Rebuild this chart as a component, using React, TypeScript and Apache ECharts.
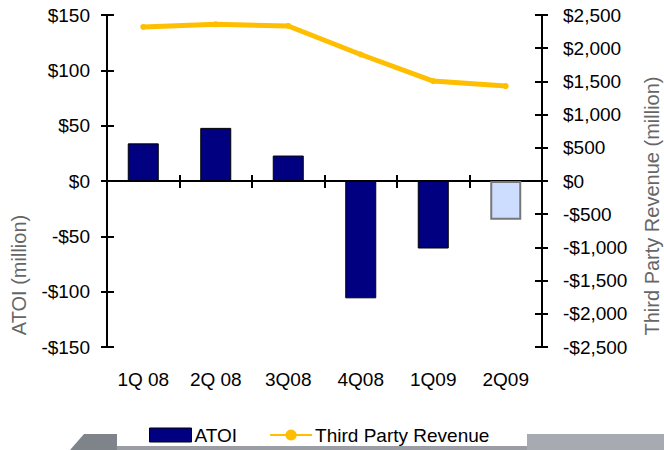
import React, { useEffect, useRef } from "react";
import * as echarts from "echarts";

const categories = ["1Q 08", "2Q 08", "3Q08", "4Q08", "1Q09", "2Q09"];
const atoi = [34, 48, 23, -106, -61, -35];
const revenue = [2320, 2360, 2335, 1905, 1505, 1430];
const leftTicks = { min: -150, max: 150, interval: 50 };
const rightTicks = { min: -2500, max: 2500, interval: 500 };

const FONT = "Liberation Sans";

const fmtLeft = (v: number) => (v < 0 ? "-$" + Math.abs(v) : "$" + v);
const fmtRight = (v: number) => {
  const s = Math.abs(v).toLocaleString("en-US");
  return v < 0 ? "-$" + s : "$" + s;
};

export default function App() {
  const ref = useRef<HTMLDivElement>(null);
  useEffect(() => {
    if (!ref.current) return;
    const chart = echarts.init(ref.current, undefined, { renderer: "svg" });
    const axisLine = { lineStyle: { color: "#000", width: 2 } };
    const tickStyle = { color: "#000", width: 2 };
    const labelStyle = { color: "#000", fontSize: 19, fontFamily: FONT };
    chart.setOption({
      animation: false,
      backgroundColor: "#fff",
      grid: { left: 107, right: 122, top: 15, bottom: 103, containLabel: false },
      legend: {
        left: 149,
        top: 425,
        itemWidth: 42,
        itemHeight: 14,
        itemGap: 32,
        padding: 0,
        textStyle: { color: "#000", fontSize: 19, lineHeight: 20, fontFamily: FONT, padding: [0, 0, 0, -2] },
        data: [
          { name: "ATOI", icon: "rect", itemStyle: { color: "#000080", borderColor: "#000", borderWidth: 1 } },
          { name: "Third Party Revenue" },
        ],
      },
      xAxis: [
        {
          type: "category",
          data: categories,
          position: "bottom",
          axisLine: { show: true, onZero: true, onZeroAxisIndex: 0, ...axisLine },
          axisTick: { show: true, length: 7, lineStyle: tickStyle },
          axisLabel: { show: false },
          splitLine: { show: false },
        },
        {
          type: "category",
          data: categories,
          position: "bottom",
          axisLine: { show: false, onZero: false },
          axisTick: { show: false },
          axisLabel: { ...labelStyle, margin: 23 },
          splitLine: { show: false },
        },
        {
          type: "category",
          data: categories,
          position: "bottom",
          axisLine: { show: false, onZero: true, onZeroAxisIndex: 0 },
          axisTick: { show: true, inside: true, length: 6, lineStyle: tickStyle },
          axisLabel: { show: false },
          splitLine: { show: false },
        },
      ],
      yAxis: [
        {
          type: "value",
          position: "left",
          ...leftTicks,
          axisLine: { show: true, ...axisLine },
          axisTick: { show: true, length: 6, lineStyle: tickStyle },
          axisLabel: { ...labelStyle, margin: 17, formatter: fmtLeft },
          splitLine: { show: false },
        },
        {
          type: "value",
          position: "right",
          ...rightTicks,
          axisLine: { show: true, ...axisLine },
          axisTick: { show: true, length: 6, lineStyle: tickStyle },
          axisLabel: { ...labelStyle, margin: 21, formatter: fmtRight },
          splitLine: { show: false },
        },
        {
          type: "value",
          position: "left",
          ...leftTicks,
          axisLine: { show: false },
          axisTick: { show: true, inside: true, length: 7, lineStyle: tickStyle },
          axisLabel: { show: false },
          splitLine: { show: false },
        },
        {
          type: "value",
          position: "right",
          ...rightTicks,
          axisLine: { show: false },
          axisTick: { show: true, inside: true, length: 7, lineStyle: tickStyle },
          axisLabel: { show: false },
          splitLine: { show: false },
        },
      ],
      series: [
        {
          name: "ATOI",
          type: "bar",
          xAxisIndex: 0,
          yAxisIndex: 0,
          barWidth: 31,
          data: atoi.map((v, i) =>
            i === atoi.length - 1
              ? { value: v, itemStyle: { color: "#CCDDFF", borderColor: "#777", borderWidth: 2 } }
              : { value: v }
          ),
          itemStyle: { color: "#000080", borderColor: "#000", borderWidth: 1 },
        },
        {
          name: "Third Party Revenue",
          type: "line",
          xAxisIndex: 0,
          yAxisIndex: 1,
          data: revenue,
          symbol: "circle",
          symbolSize: 6,
          itemStyle: { color: "#FFBF00" },
          lineStyle: { color: "#FFBF00", width: 5 },
        },
      ],
      graphic: [
        {
          type: "polygon",
          z: -1,
          shape: { points: [[70, 450], [84, 434], [117, 434], [117, 450]] },
          style: { fill: "#7f838a" },
        },
        {
          type: "rect",
          z: -1,
          shape: { x: 117, y: 446, width: 410, height: 4 },
          style: { fill: "#9a9da4" },
        },
        {
          type: "rect",
          z: -1,
          shape: { x: 527, y: 434, width: 137, height: 16 },
          style: { fill: "#a7aab1" },
        },
        {
          type: "text",
          x: 19,
          y: 275,
          rotation: Math.PI / 2,
          style: {
            text: "ATOI (million)",
            fill: "#666",
            fontSize: 20,
            fontFamily: FONT,
            align: "center",
            verticalAlign: "middle",
          },
        },
        {
          type: "text",
          x: 652,
          y: 206,
          rotation: Math.PI / 2,
          style: {
            text: "Third Party Revenue (million)",
            fill: "#666",
            fontSize: 20,
            fontFamily: FONT,
            align: "center",
            verticalAlign: "middle",
          },
        },
      ],
    });
    return () => chart.dispose();
  }, []);
  return <div ref={ref} style={{ width: 664, height: 450, position: "absolute", left: 0, top: 0 }} />;
}
